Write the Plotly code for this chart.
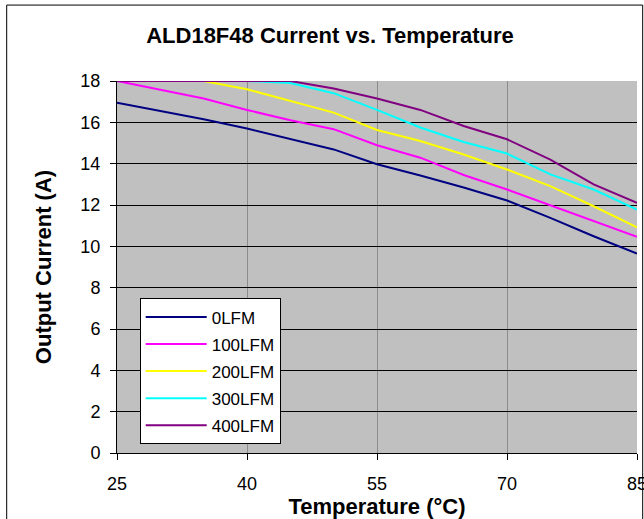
import plotly.graph_objects as go

temperature = [25, 30, 35, 40, 45, 50, 55, 60, 65, 70, 75, 80, 85]
series_names = ["0LFM", "100LFM", "200LFM", "300LFM", "400LFM"]
lfm0 = [16.95, 16.55, 16.15, 15.70, 15.20, 14.69, 13.97, 13.43, 12.85, 12.22, 11.38, 10.49, 9.65]
lfm100 = [18.0, 17.57, 17.15, 16.60, 16.10, 15.67, 14.89, 14.29, 13.45, 12.75, 11.98, 11.21, 10.46]
lfm200 = [18.0, 18.0, 18.0, 17.60, 17.02, 16.47, 15.63, 15.10, 14.44, 13.72, 12.91, 11.94, 10.92]
lfm300 = [18.0, 18.0, 18.0, 18.0, 17.90, 17.41, 16.60, 15.75, 15.05, 14.49, 13.48, 12.75, 11.78]
lfm400 = [18.0, 18.0, 18.0, 18.0, 18.0, 17.64, 17.15, 16.60, 15.82, 15.18, 14.20, 13.00, 12.10]
series_values = [lfm0, lfm100, lfm200, lfm300, lfm400]
colors = ["#000080", "#FF00FF", "#FFFF00", "#00FFFF", "#800080"]

x_ticks = [25, 40, 55, 70, 85]
y_ticks = [0, 2, 4, 6, 8, 10, 12, 14, 16, 18]

FONT = "Liberation Sans, Arial, sans-serif"

fig = go.Figure()
for name, vals, col in zip(series_names, series_values, colors):
    fig.add_trace(go.Scatter(
        x=temperature, y=vals, mode="lines", name=name,
        line=dict(color=col, width=2), legendgroup=name,
    ))

W, H = 644, 519
L, R, T, B = 117.3, 637.3, 81.3, 452.7

fig.update_layout(
    width=W, height=H,
    margin=dict(l=L, r=W - R, t=T, b=H - B, pad=0, autoexpand=False),
    paper_bgcolor="white",
    plot_bgcolor="#C0C0C0",
    font=dict(family=FONT, color="black", size=17),
    title=dict(
        text="<b>ALD18F48 Current vs. Temperature</b>",
        font=dict(family=FONT, size=22, color="black"),
        x=330 / W, xref="container", xanchor="center",
        y=1 - 35 / H, yref="container", yanchor="middle",
    ),
    showlegend=True,
    legend=dict(
        x=(140 - L) / (R - L), y=(B - 298.3) / (B - T),
        xanchor="left", yanchor="top",
        bgcolor="white", bordercolor="black", borderwidth=1,
        font=dict(family=FONT, size=17, color="black"),
        traceorder="grouped", tracegroupgap=2,
        itemwidth=61,
    ),
    xaxis=dict(
        range=[25, 85], tickvals=x_ticks, ticktext=[str(v) for v in x_ticks],
        showgrid=True, gridcolor="#8C8C8C", gridwidth=1,
        showline=True, linecolor="black", linewidth=1,
        ticks="outside", ticklen=6, tickcolor="black",
        zeroline=False, ticklabelstandoff=8, ticklabeloverflow="allow",
        automargin=False,
        title=dict(text="<b>Temperature (°C)</b>", font=dict(family=FONT, size=22), standoff=3),
        tickfont=dict(family=FONT, size=18),
    ),
    yaxis=dict(
        range=[0, 18], tickvals=y_ticks,
        showgrid=True, gridcolor="black", gridwidth=1,
        showline=True, linecolor="black", linewidth=1,
        ticks="outside", ticklen=6, tickcolor="black",
        zeroline=False, ticklabelstandoff=6, ticklabeloverflow="allow",
        automargin=False,
        title=dict(text="<b>Output Current (A)</b>", font=dict(family=FONT, size=22), standoff=22),
        tickfont=dict(family=FONT, size=18),
    ),
)

# outer chart frame
fig.add_shape(
    type="rect", xref="paper", yref="paper",
    x0=(7 - L) / (R - L), x1=(643 - L) / (R - L),
    y0=(B - 530) / (B - T), y1=(B - 5.5) / (B - T),
    line=dict(color="black", width=1), fillcolor="rgba(0,0,0,0)", layer="below",
)

fig.write_html("out.html", config={"displayModeBar": False},
               post_script="document.body.style.margin='0';")
